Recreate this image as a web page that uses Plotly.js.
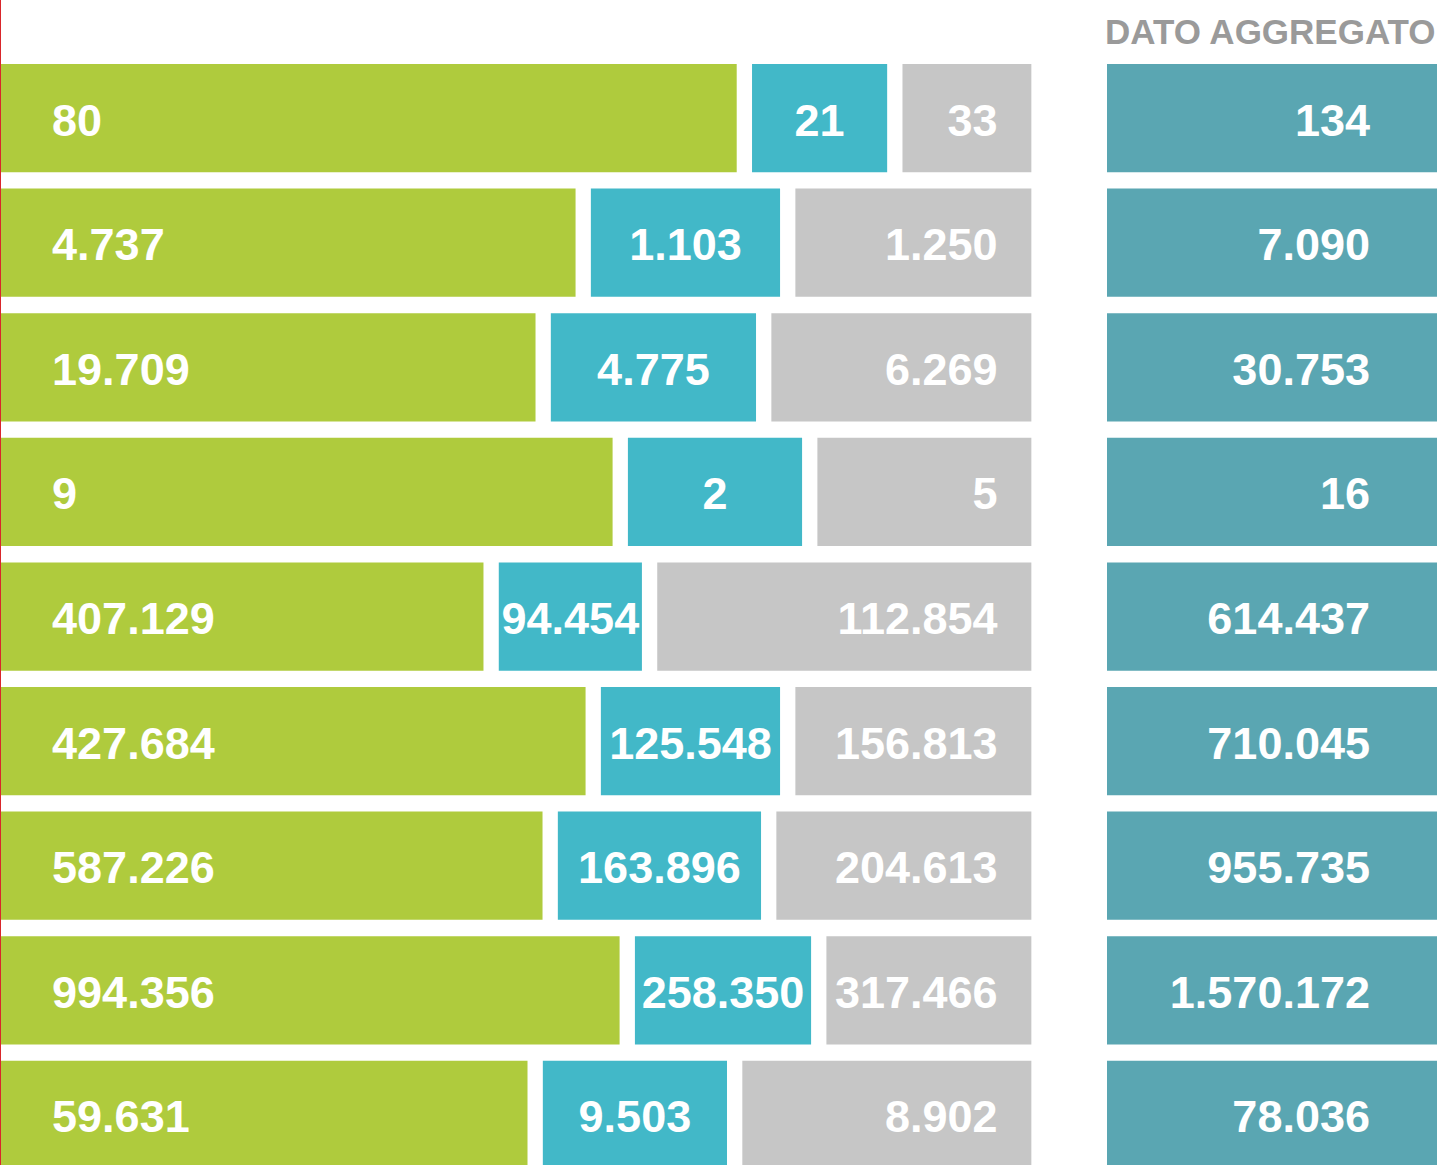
<!DOCTYPE html>
<html>
<head>
<meta charset="utf-8">
<script src="https://cdn.plot.ly/plotly-3.0.1.min.js"></script>
<style>
  html, body { margin: 0; padding: 0; background: #ffffff; }
  #chart { width: 1442px; height: 1165px; }
</style>
</head>
<body>
<div id="chart"></div>
<script>
// Row indices (top to bottom)
const rows = [0, 1, 2, 3, 4, 5, 6, 7, 8];

// Displayed values (labels)
const greenLabels = ["80", "4.737", "19.709", "9", "407.129", "427.684", "587.226", "994.356", "59.631"];
const blueLabels  = ["21", "1.103", "4.775", "2", "94.454", "125.548", "163.896", "258.350", "9.503"];
const grayLabels  = ["33", "1.250", "6.269", "5", "112.854", "156.813", "204.613", "317.466", "8.902"];
const totalLabels = ["134", "7.090", "30.753", "16", "614.437", "710.045", "955.735", "1.570.172", "78.036"];

// Bar lengths (share of the row, %)
const greenLen = [73.6, 57.5, 53.5, 61.2, 48.3, 58.5, 54.2, 61.9, 52.7];
const blueLen  = [13.5, 18.9, 20.5, 17.4, 14.3, 17.9, 20.3, 17.6, 18.4];
const grayLen  = [12.9, 23.6, 26.0, 21.4, 37.4, 23.6, 25.5, 20.5, 28.9];
const totalLen = [1, 1, 1, 1, 1, 1, 1, 1, 1];

const header = "DATO AGGREGATO";

// Styling constants
const GAP = 1.53;               // gap between segments (x units)
const FONT = "Liberation Sans, Arial, sans-serif";
const C_GREEN = "#AFCB3D", C_BLUE = "#42B8C8", C_GRAY = "#C6C6C6", C_TEAL = "#5AA6B2";
const BARW = 0.869;
const YR = [8.402, -0.948];
const TEXT_SHIFT = 0.05;        // push labels slightly below bar centre

const greenBase = rows.map(() => 0);
const blueBase  = rows.map(i => greenLen[i] + GAP);
const grayBase  = rows.map(i => greenLen[i] + blueLen[i] + 2 * GAP);
const grayEnd   = rows.map(i => grayBase[i] + grayLen[i]);

function barTrace(x, base, color, xa) {
  return {
    type: "bar", orientation: "h", y: rows, x: x, base: base,
    width: BARW, marker: { color: color, line: { width: 0 } },
    xaxis: xa, yaxis: "y", hoverinfo: "skip", showlegend: false
  };
}
function textTrace(x, labels, pos, xa) {
  return {
    type: "scatter", mode: "text", y: rows, x: x, text: labels,
    textposition: pos, xaxis: xa, yaxis: "y2", cliponaxis: false,
    textfont: { family: FONT, size: 45, color: "#ffffff", weight: 700 },
    hoverinfo: "skip", showlegend: false
  };
}

const data = [
  barTrace(greenLen, greenBase, C_GREEN, "x"),
  barTrace(blueLen, blueBase, C_BLUE, "x"),
  barTrace(grayLen, grayBase, C_GRAY, "x"),
  barTrace(totalLen, rows.map(() => 0), C_TEAL, "x2"),
  textTrace(rows.map(() => 5.2), greenLabels, "middle right", "x"),
  textTrace(rows.map(i => blueBase[i] + blueLen[i] / 2), blueLabels, "middle center", "x"),
  textTrace(rows.map(i => grayEnd[i] - 3.4), grayLabels, "middle left", "x"),
  textTrace(rows.map(() => 0.797), totalLabels, "middle left", "x2")
];

const axisOff = { showgrid: false, zeroline: false, showticklabels: false, showline: false, ticks: "", fixedrange: true };

const layout = {
  width: 1442, height: 1165,
  margin: { l: 0, r: 0, t: 0, b: 0, pad: 0 },
  paper_bgcolor: "#ffffff", plot_bgcolor: "rgba(0,0,0,0)",
  barmode: "overlay",
  showlegend: false,
  xaxis: Object.assign({ domain: [0, 1031.6 / 1442], range: [0, 103.06] }, axisOff),
  xaxis2: Object.assign({ domain: [1107 / 1442, 1437 / 1442], range: [0, 1], anchor: "y" }, axisOff),
  yaxis: Object.assign({ range: YR }, axisOff),
  yaxis2: Object.assign({ range: [YR[0] - TEXT_SHIFT, YR[1] - TEXT_SHIFT], overlaying: "y" }, axisOff),
  annotations: [{
    text: header, xref: "x2 domain", x: 1.003, xanchor: "right",
    yref: "paper", y: 1 - 31 / 1165, yanchor: "middle", showarrow: false,
    font: { family: FONT, size: 35, color: "#9A9A9A", weight: 700 }
  }],
  shapes: [{
    type: "line", xref: "paper", yref: "paper", x0: 0, x1: 0, y0: 0, y1: 1,
    line: { color: "#D9262B", width: 2 }
  }]
};

Plotly.newPlot("chart", data, layout, { displayModeBar: false, staticPlot: true });
</script>
</body>
</html>
